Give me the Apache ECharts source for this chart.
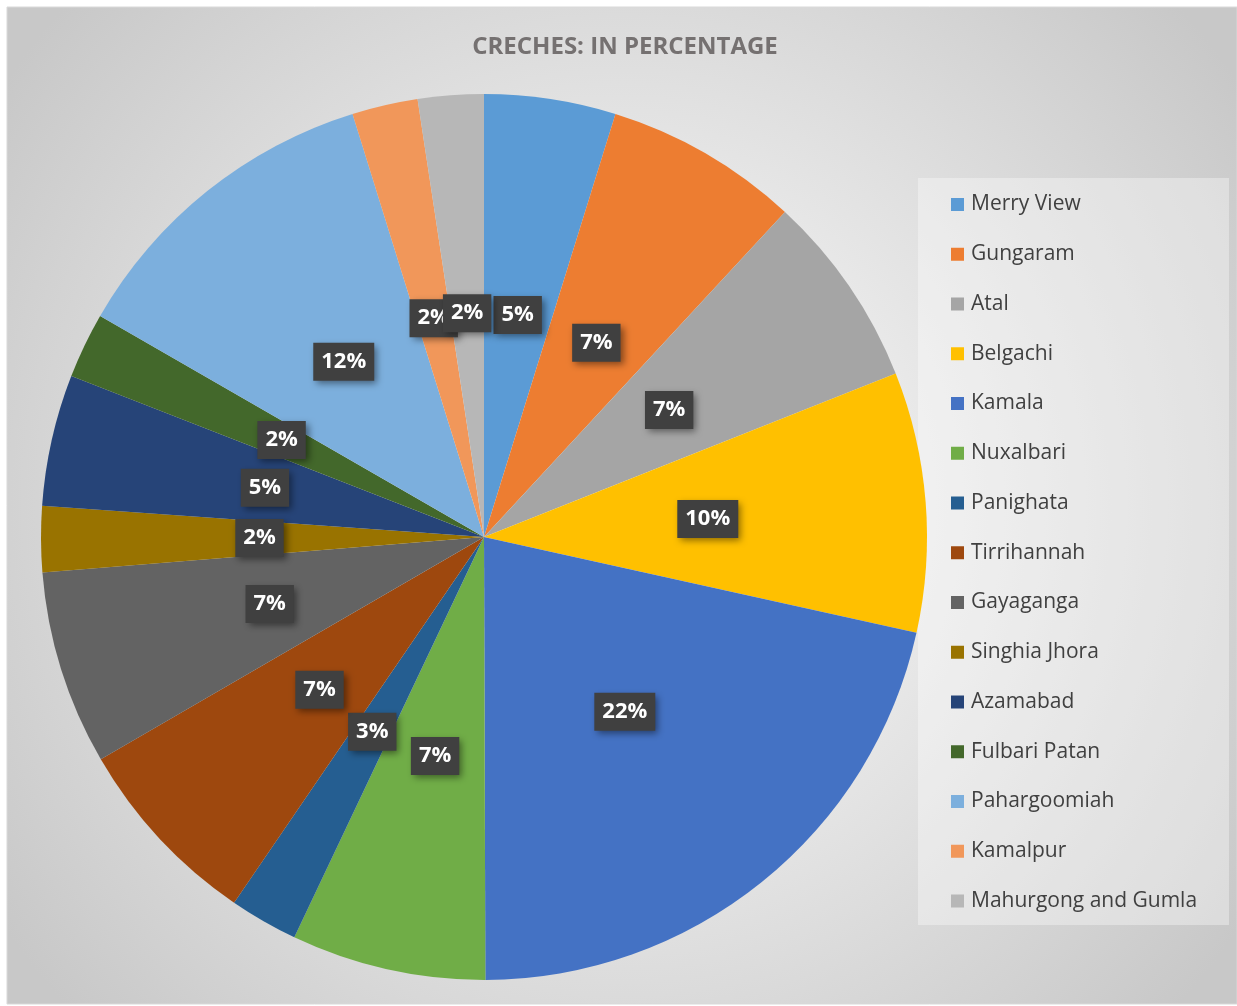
<!DOCTYPE html>
<html>
<head>
<meta charset="utf-8">
<script src="https://cdn.jsdelivr.net/npm/echarts@6/dist/echarts.min.js"></script>
<style>
html,body{margin:0;padding:0;background:#fff;}
#chart{width:1237px;height:1006px;}
</style>
</head>
<body>
<div id="chart"></div>
<script>
const categories = ["Merry View","Gungaram","Atal","Belgachi","Kamala","Nuxalbari","Panighata","Tirrihannah","Gayaganga","Singhia Jhora","Azamabad","Fulbari Patan","Pahargoomiah","Kamalpur","Mahurgong and Gumla"];
const values = [4.8, 7.1, 7.1, 9.5, 21.5, 7.1, 2.5, 7.1, 7.1, 2.4, 4.8, 2.4, 11.9, 2.4, 2.4];
const colors = ["#5B9BD5","#ED7D31","#A5A5A5","#FFC000","#4472C4","#70AD47","#255E91","#9E480E","#636363","#997300","#264478","#43682B","#7CAFDD","#F1975A","#B7B7B7"];
const titleText = "CRECHES: IN PERCENTAGE";

const chart = echarts.init(document.getElementById('chart'), null, {renderer:'canvas'});
const FONT = "'Open Sans', 'Noto Sans', sans-serif";
chart.setOption({
  animation:false,
  color: colors,
  title:{
    text:titleText, left:620, top:30, textAlign:'center',
    textStyle:{fontFamily:FONT, fontSize:24, fontWeight:'bold', color:'#757171'}
  },
  graphic:[
    {type:'rect', z:-10, silent:true, shape:{x:7,y:7,width:1230,height:997},
     style:{fill:new echarts.graphic.RadialGradient(0.5,0.5,0.75,[{offset:0,color:'#ffffff'},{offset:1,color:'#c8c8c8'}]), stroke:'#d9d9d9', lineWidth:1}},
    {type:'rect', z:-9, silent:true, shape:{x:918,y:178,width:311,height:747},
     style:{fill:'rgba(255,255,255,0.35)'}}
  ],
  legend:{
    orient:'vertical', left:946, top:189,
    itemWidth:13, itemHeight:13, itemGap:28.75, icon:'rect',
    textStyle:{fontFamily:FONT, fontSize:21, color:'#404040', lineHeight:20, padding:[0,0,0,2]},
    data:categories
  },
  series:[{
    type:'pie', center:[484,537], radius:443, startAngle:90, clockwise:true,
    avoidLabelOverlap:false,
    labelLayout:{hideOverlap:false},
    data: categories.map((c,i)=>({name:c, value:values[i]})),
    label:{
      show:true, position:'inside',
      formatter:p=>Math.round(p.value)+'%',
      fontFamily:FONT, fontSize:22, fontWeight:'bold', color:'#fff',
      backgroundColor:'#404040', padding:[8,8,8,8],
      shadowColor:'rgba(0,0,0,0.45)', shadowBlur:7, shadowOffsetX:3, shadowOffsetY:3
    },
    labelLine:{show:false},
    itemStyle:{borderWidth:0},
    emphasis:{disabled:true}
  }]
});
</script>
</body>
</html>
